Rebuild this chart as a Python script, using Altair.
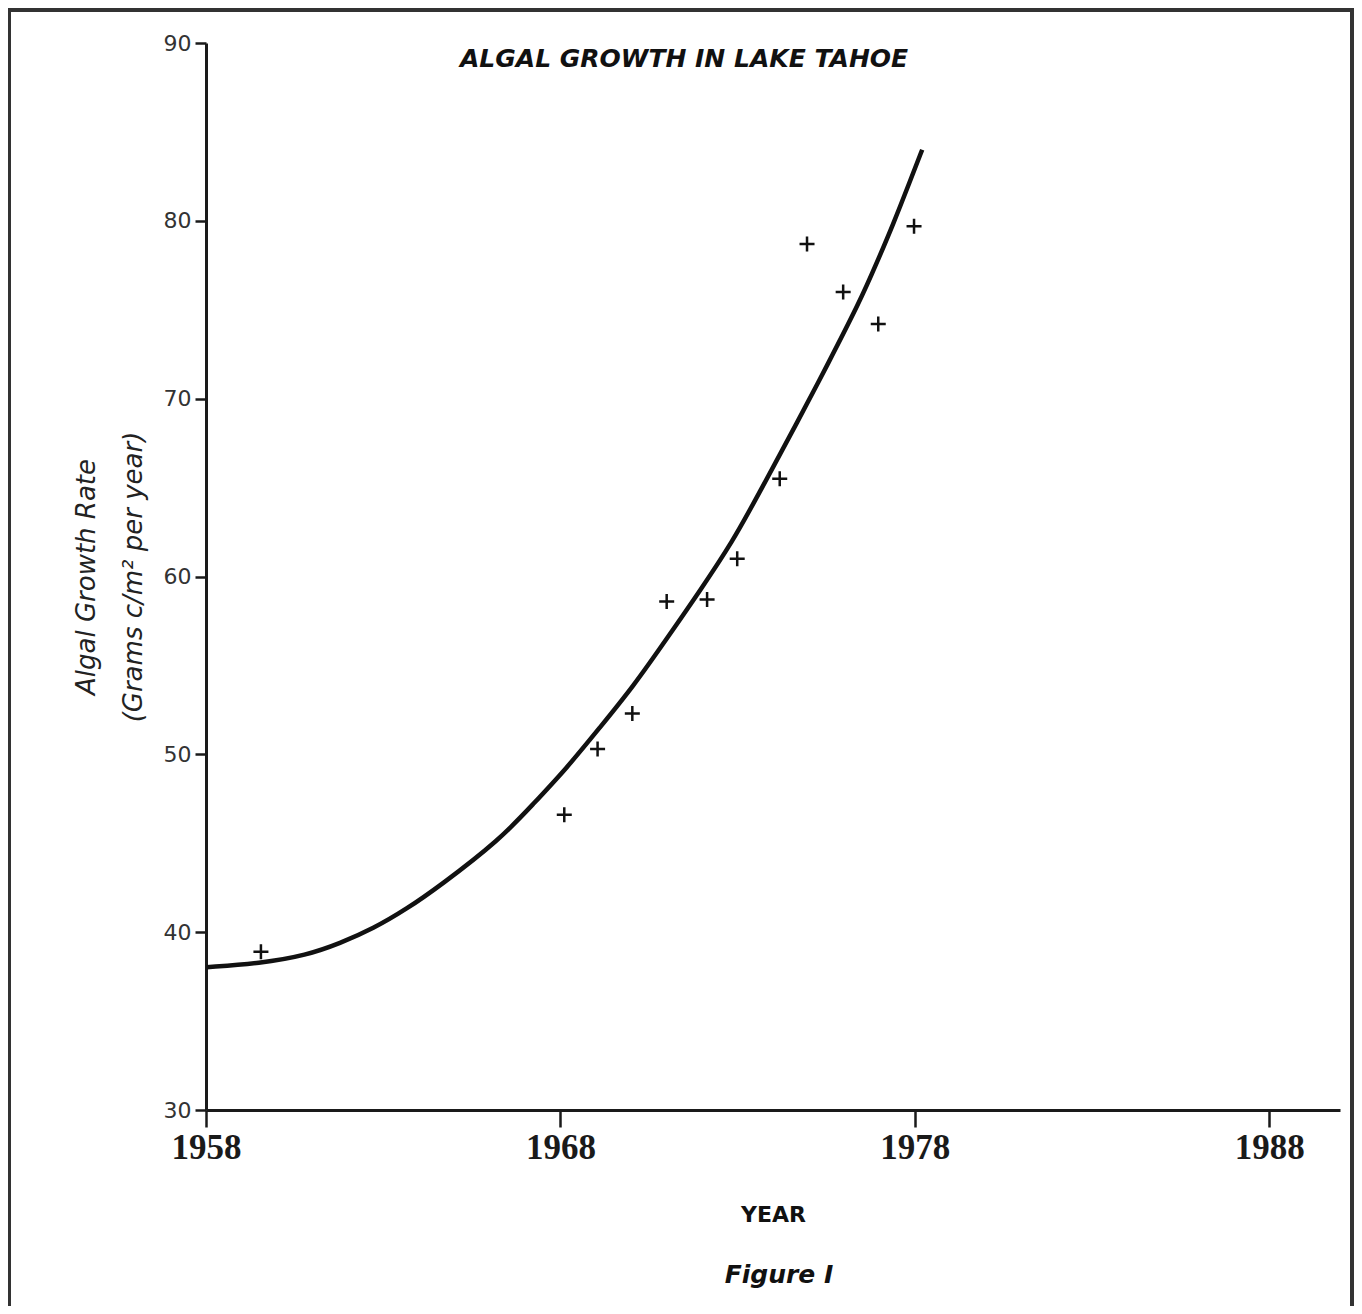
import altair as alt
import pandas as pd

# ---- data ----
point_year = [1959.55, 1968.11, 1969.05, 1970.03, 1971.0, 1972.14, 1972.99,
              1974.19, 1974.96, 1975.98, 1976.97, 1977.98]
point_rate = [38.9, 46.6, 50.3, 52.3, 58.6, 58.7, 61.0, 65.5, 78.7, 76.0, 74.2, 79.7]

curve_year = [1958.02, 1959.52, 1960.84, 1961.78, 1962.72, 1963.66, 1964.60,
              1966.29, 1967.23, 1968.17, 1969.11, 1970.05, 1971.00, 1971.94,
              1972.87, 1973.53, 1974.76, 1975.51, 1976.46, 1976.92, 1977.39,
              1977.86, 1978.21]
curve_rate = [38.03, 38.24, 38.7, 39.37, 40.2, 41.3, 42.6, 45.2, 47.2, 49.2,
              51.5, 53.8, 56.5, 59.2, 62.0, 64.4, 68.95, 71.8, 75.5, 77.6, 79.8,
              82.2, 84.0]

x_ticks = [1958, 1968, 1978, 1988]
y_ticks = [30, 40, 50, 60, 70, 80, 90]

title_text = ["ALGAL GROWTH IN LAKE TAHOE"]
figure_text = ["Figure I"]

points = pd.DataFrame({"year": point_year, "rate": point_rate})
curve = pd.DataFrame({"year": curve_year, "rate": curve_rate})

W, H = 1134, 1067

x_scale = alt.Scale(domain=[1958, 1990], nice=False, zero=False)
y_scale = alt.Scale(domain=[30, 90], nice=False, zero=False)

x_axis = alt.Axis(
    values=x_ticks, format="d", title="YEAR", grid=False, labelFlush=False,
    labelFont="Liberation Serif", labelFontWeight="bold", labelFontSize=35,
    labelColor="#1a1a1a", labelPadding=3,
    tickSize=17, tickWidth=2.5, tickColor="#1a1a1a",
    domainWidth=3, domainColor="#1a1a1a",
    titleFont="DejaVu Sans", titleFontWeight="bold", titleFontSize=22,
    titleColor="#111", titlePadding=39,
)
y_axis = alt.Axis(
    values=y_ticks, format="d", grid=False, labelFlush=False,
    title=["Algal Growth Rate", "(Grams c/m²  per year)"],
    labelFont="DejaVu Sans", labelFontSize=22, labelColor="#333",
    labelPadding=4,
    tickSize=11, tickWidth=2.5, tickColor="#1a1a1a",
    domainWidth=3, domainColor="#1a1a1a",
    titleFont="DejaVu Sans", titleFontStyle="italic", titleFontWeight="normal",
    titleFontSize=26, titleColor="#222", titleLineHeight=47, titlePadding=17,
)

line = alt.Chart(curve).mark_line(
    color="#111", strokeWidth=4.5, interpolate="basis"
).encode(
    x=alt.X("year:Q", scale=x_scale, axis=x_axis),
    y=alt.Y("rate:Q", scale=y_scale, axis=y_axis),
)

plus = alt.Chart(points).mark_point(
    shape="M-1,0L1,0M0,-1L0,1", size=225, filled=False,
    color="#111", strokeWidth=2.5, opacity=1
).encode(
    x=alt.X("year:Q", scale=x_scale),
    y=alt.Y("rate:Q", scale=y_scale),
)

title = alt.Chart(pd.DataFrame({"t": title_text})).mark_text(
    font="DejaVu Sans", fontStyle="italic", fontWeight="bold", fontSize=25,
    align="left", baseline="alphabetic", color="#111"
).encode(x=alt.value(254), y=alt.value(24), text="t:N")

figure = alt.Chart(pd.DataFrame({"t": figure_text})).mark_text(
    font="DejaVu Sans", fontStyle="italic", fontWeight="bold", fontSize=25,
    align="center", baseline="alphabetic", color="#111"
).encode(x=alt.value(573), y=alt.value(1240), text="t:N")

frame = alt.Chart(pd.DataFrame({"f": [0]})).mark_rect(
    fillOpacity=0, stroke="#333", strokeWidth=4
).encode(x=alt.value(-197), x2=alt.value(1146), y=alt.value(-33), y2=alt.value(1320))

chart = alt.layer(frame, line, plus, title, figure).properties(
    width=W, height=H,
    autosize=alt.AutoSizeParams(type="none"),
    padding={"left": 198, "top": 35, "right": 14, "bottom": 196},
).configure(background="white").configure_view(strokeWidth=0, stroke="transparent")

chart.save("out.html", embed_options={"renderer": "svg", "actions": False})
